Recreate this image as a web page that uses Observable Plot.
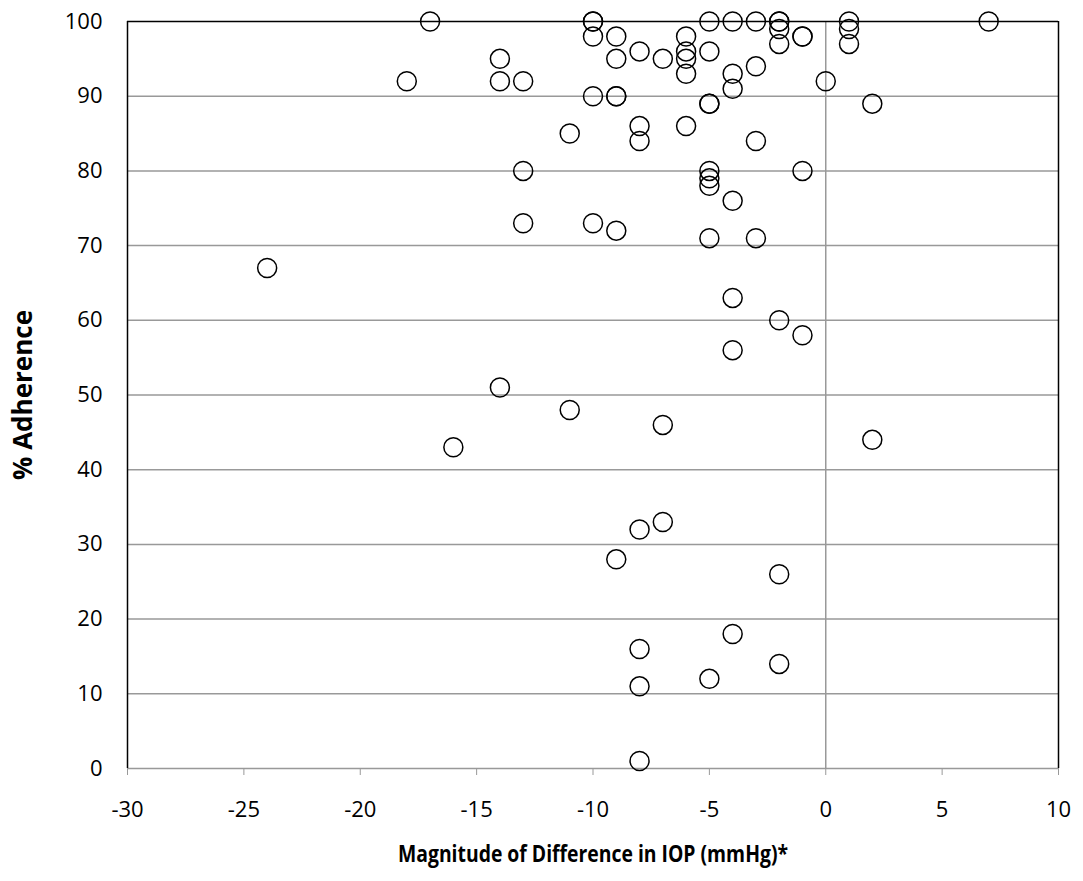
<!DOCTYPE html>
<html><head><meta charset="utf-8">
<script src="https://cdn.jsdelivr.net/npm/d3@7"></script>
<script src="https://cdn.jsdelivr.net/npm/@observablehq/plot@0.6"></script>
<style>body{margin:0;background:#fff;} svg{display:block;}</style>
</head><body><div id="chart"></div>
<script>
const iopDiff = [-17,-10,-10,-10,-9,-5,-4,-3,-2,-2,-2,-2,1,1,1,-1,-1,7,-6,-6,-6,-6,-8,-9,-7,-5,-3,-4,-4,-5,-5,0,2,-18,-14,-14,-13,-10,-9,-9,-11,-8,-8,-6,-3,-13,-5,-5,-5,-1,-4,-13,-10,-9,-5,-3,-24,-4,-2,-1,-4,-14,-11,-7,-16,2,-7,-8,-9,-2,-4,-8,-2,-5,-8,-8];
const adherence = [100,100,100,98,98,100,100,100,100,100,99,97,100,99,97,98,98,100,98,96,95,93,96,95,95,96,94,93,91,89,89,92,89,92,95,92,92,90,90,90,85,86,84,86,84,80,80,79,78,80,76,73,73,72,71,71,67,63,60,58,56,51,48,46,43,44,33,32,28,26,18,16,14,12,11,1];
const xTicks = [-30,-25,-20,-15,-10,-5,0,5,10];
const yTicks = [0,10,20,30,40,50,60,70,80,90,100];
const xTitle = "Magnitude of Difference in IOP (mmHg)*";
const yTitle = "% Adherence";
const data = iopDiff.map((x,i)=>({x, y: adherence[i]}));

const chart = Plot.plot({
  width: 1083, height: 881,
  marginLeft: 127, marginRight: 25, marginTop: 21, marginBottom: 113,
  style: {fontFamily: "'Open Sans', 'Liberation Sans', sans-serif", fontSize: "22px", color: "#000", background: "#fff"},
  x: {domain: [-30, 10], ticks: xTicks, label: null, tickFormat: d => d},
  y: {domain: [0, 100], ticks: yTicks, label: null},
  marks: [
    Plot.ruleY(yTicks.filter(d=>d>0 && d<100), {stroke: "#999", strokeWidth: 1.5}),
    Plot.ruleX([0], {stroke: "#999", strokeWidth: 1.5}),
    Plot.ruleY([0], {stroke: "#999", strokeWidth: 1.5}),
    Plot.ruleY([100], {stroke: "#000", strokeWidth: 1.5}),
    Plot.ruleX([-30, 10], {stroke: "#000", strokeWidth: 1.5}),
    Plot.axisX({ticks: xTicks, tickSize: 7, tickPadding: 26, stroke: "#999", tickFormat: d => d, label: null, fontSize: 22}),
    Plot.axisY({ticks: yTicks, tickSize: 0, tickPadding: 25, label: null, fontSize: 22}),
    Plot.dot(data, {x: "x", y: "y", r: 9.5, stroke: "#000", strokeWidth: 1.5, fill: "none"}),
    Plot.text([xTitle], {frameAnchor: "bottom", dy: 93, fontSize: 23, fontWeight: "bold"}),
    Plot.text([yTitle], {frameAnchor: "left", textAnchor: "middle", dx: -104, rotate: -90, fontSize: 26, fontWeight: "bold"})
  ]
});
document.getElementById("chart").append(chart);
// condense the x title to the reference's narrower (Calibri-like) width
chart.querySelectorAll("text").forEach(t => {
  if (t.textContent === xTitle) {
    t.setAttribute("textLength", 390);
    t.setAttribute("lengthAdjust", "spacingAndGlyphs");
  }
});
</script></body></html>
